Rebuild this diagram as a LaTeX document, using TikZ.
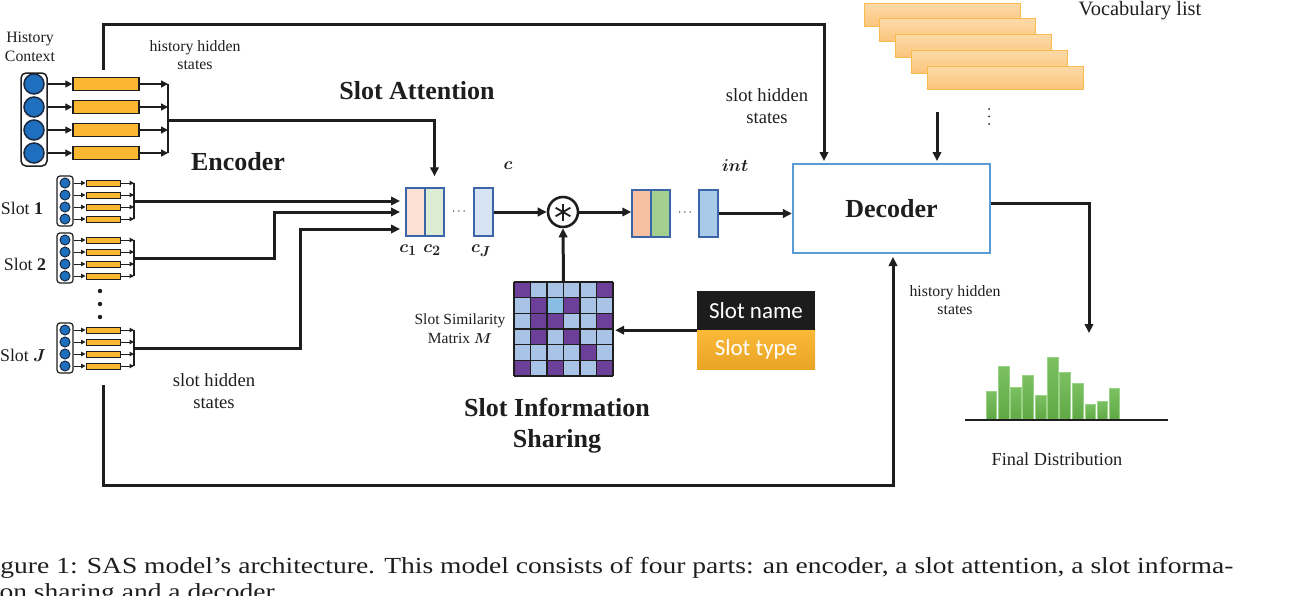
\documentclass[tikz,border=0pt]{standalone}
\usepackage{fontspec}
\setmainfont{Liberation Serif}
\newfontfamily\calfont{Carlito}
\usepackage{bm}
\usetikzlibrary{arrows.meta,calc}
\definecolor{circblue}{HTML}{1F6FBF}
\definecolor{circedge}{HTML}{1A2A40}
\definecolor{yel}{HTML}{FBB632}
\definecolor{cone}{HTML}{FBE0D3}
\definecolor{ctwo}{HTML}{DCECD4}
\definecolor{cthree}{HTML}{D5E3F3}
\definecolor{cedge}{HTML}{3C64A8}
\definecolor{ione}{HTML}{F7C0A1}
\definecolor{itwo}{HTML}{A3D08F}
\definecolor{ithree}{HTML}{A9CBEA}
\definecolor{mpurple}{HTML}{6C3F99}
\definecolor{mlight}{HTML}{A9C3E6}
\definecolor{mmid}{HTML}{8ABDE3}
\definecolor{decblue}{HTML}{5B9BD5}
\definecolor{voctop}{HTML}{FDDAA8}
\definecolor{vocbot}{HTML}{FBC57C}
\definecolor{vocedge}{HTML}{F8BB4F}
\definecolor{bartop}{HTML}{7CC062}
\definecolor{barbot}{HTML}{5FA845}
\definecolor{baredge}{HTML}{9AD286}
\definecolor{nameblk}{HTML}{1C1C1C}
\definecolor{typetop}{HTML}{FBB93A}
\definecolor{typebot}{HTML}{E9A424}
\definecolor{ink}{HTML}{1E1E1E}
\newcommand\slotblk[2]{%
  \node[sbox] (#1box) at (65,#2+18) {};
  \foreach \k in {0,1,2,3} {
    \node[scirc] (#1c\k) at (65,#2+12*\k) {};
    \node[srect] (#1r\k) at (103,#2+12*\k) {};
    \coordinate (#1b\k) at (134,#2+12*\k);
    \draw[tarr] (#1box.east |- #1r\k) -- (#1r\k.west);
    \draw[tarr] (#1r\k.east) -- (#1b\k);
  }
  \draw[line width=1.2pt,ink] (#1b0) -- (#1b3);
  \coordinate (#1out) at (134,#2+18);
}
\begin{document}
\begin{tikzpicture}[x=1pt,y=-1pt,
  conn/.style={line width=3pt,draw=ink,-{Triangle[length=9pt,width=8.5pt]}},
  sarr/.style={line width=1.4pt,draw=ink,-{Triangle[length=7pt,width=7pt]}},
  tarr/.style={line width=1pt,draw=ink,-{Triangle[length=4.5pt,width=4.5pt]}},
  txt/.style={font=\fontsize{15.8}{18}\selectfont,align=center,inner sep=0,text=ink},
  bigtxt/.style={font=\fontsize{18.6}{22}\selectfont,align=center,inner sep=0,text=ink},
  head/.style={font=\bfseries\fontsize{26}{31}\selectfont,align=center,inner sep=0,text=ink},
  mlbl/.style={font=\fontsize{19}{20}\selectfont,inner sep=0,text=ink},
  hcirc/.style={circle,fill=circblue,draw=circedge,line width=1.5pt,minimum size=20pt,inner sep=0},
  hrect/.style={rectangle,fill=yel,draw=ink,line width=1.5pt,minimum width=66pt,minimum height=13pt,inner sep=0},
  sbox/.style={rectangle,draw=ink,fill=white,line width=1.2pt,rounded corners=3pt,minimum width=16pt,minimum height=50pt,inner sep=0},
  scirc/.style={circle,fill=circblue,draw=circedge,line width=1pt,minimum size=10pt,inner sep=0},
  srect/.style={rectangle,fill=yel,draw=ink,line width=1pt,minimum width=34pt,minimum height=6pt,inner sep=0},
  vbar/.style={rectangle,draw=cedge,line width=1.5pt,minimum width=19pt,minimum height=48pt,inner sep=0},
  vocr/.style={rectangle,draw=vocedge,line width=1pt,top color=voctop,bottom color=vocbot,minimum width=156pt,minimum height=23pt,inner sep=0},
  bar/.style={draw=baredge,line width=0.8pt,top color=bartop,bottom color=barbot},
  dotn/.style={circle,fill=ink,minimum size=2pt,inner sep=0}]
\useasboundingbox (0,0) rectangle (1313,595);
\clip (0,0) rectangle (1313,595);

% ---------- history encoder ----------
\node[txt] (histlab) at (30,46.5) {History\\[1pt]Context};
\node[rectangle,draw=ink,fill=white,line width=1.5pt,rounded corners=5pt,minimum width=26pt,minimum height=93pt,inner sep=0] (hbox) at (34,119.5) {};
\foreach \i/\y in {1/84,2/107,3/130,4/153} {
  \node[hcirc] (hc\i) at (34,\y) {};
  \node[hrect] (hr\i) at (106,\y) {};
  \coordinate (hb\i) at (168,\y);
  \draw[sarr] (hbox.east |- hr\i) -- (hr\i.west);
  \draw[sarr] (hr\i.east) -- (hb\i);
}
\draw[line width=1.4pt,ink] (hb1) -- (hb4);
\coordinate (hout) at (168,120);
\node[txt] (hhs1) at (195,55) {history hidden\\states};
\node[head] (attlab) at (417,91) {Slot Attention};
\node[head] (enclab) at (238,162) {Encoder};

% ---------- slot encoders ----------
\slotblk{sa}{183}
\slotblk{sb}{240}
\slotblk{sj}{330}
\node[font=\fontsize{17.8}{20}\selectfont,inner sep=0,text=ink] (sl1) at (22,208) {Slot \textbf{1}};
\node[font=\fontsize{17.8}{20}\selectfont,inner sep=0,text=ink] (sl2) at (25,264) {Slot \textbf{2}};
\node[font=\fontsize{17.8}{20}\selectfont,inner sep=0,text=ink] (slj) at (23,355) {Slot $\bm{J}$};
\foreach \y in {291,304,317} \fill[ink] (100,\y) circle (2.2pt);
\node[bigtxt] (shs1) at (214,391) {slot hidden\\states};

% ---------- slot attention vectors ----------
\node[vbar,fill=cone] (c1) at (415.5,212) {};
\node[vbar,fill=ctwo] (c2) at (434.5,212) {};
\node[inner sep=0,font=\fontsize{13}{13}\selectfont] (cdots) at (459,212) {$\cdots$};
\node[vbar,fill=cthree] (cJ) at (483.5,212) {};
\node[mlbl] (c1l) at (408,250) {$\bm{c}_{\bm 1}$};
\node[mlbl] (c2l) at (432,250) {$\bm{c}_{\bm 2}$};
\node[mlbl] (cJl) at (481,251) {$\bm{c}_{\bm J}$};
\node[mlbl] (clab) at (508,166) {$\bm{c}$};
\coordinate (att1) at (400,201);
\coordinate (att2) at (400,212);
\coordinate (att3) at (400,229);
\draw[conn] (saout) -- (att1);
\draw[conn] (sbout) -| (274,212) -- (att2);
\draw[conn] (sjout) -| (300,229) -- (att3);
\draw[conn] (hout) -| ([yshift=11pt]c2.north);

% ---------- star operator ----------
\node[circle,draw=ink,line width=2.6pt,minimum size=30pt,inner sep=0] (star) at (563,212) {};
\foreach \a in {90,30,150} \draw[line width=1.8pt,ink] ($(star)+(\a:8.5)$) -- ($(star)+(\a+180:8.5)$);
\draw[conn] (cJ.east) -- (star.west);

% ---------- int vectors ----------
\node[vbar,fill=ione,minimum height=47pt] (i1) at (641.5,213.5) {};
\node[vbar,fill=itwo,minimum height=47pt] (i2) at (660.5,213.5) {};
\node[inner sep=0,font=\fontsize{13}{13}\selectfont] (idots) at (685,213) {$\cdots$};
\node[vbar,fill=ithree,minimum height=47pt] (i3) at (708.5,213.5) {};
\node[mlbl] (intlab) at (735,166) {$\bm{int}$};
\draw[conn] (star.east) -- (star.east -| i1.west);

% ---------- similarity matrix ----------
\node[rectangle,minimum width=99pt,minimum height=94pt,inner sep=0,fill=mlight] (mat) at (563.5,329) {};
\foreach \r/\c in {0/0,0/5,1/1,1/3,2/1,2/2,2/5,3/1,3/3,4/4,5/0,5/2,5/5}
  \fill[mpurple] (514+\c*16.5,282+\r*15.667) rectangle ++(16.5,15.667);
\fill[mmid] (514+2*16.5,282+15.667) rectangle ++(16.5,15.667);
\foreach \i in {0,...,6} {
  \draw[line width=1.5pt,ink] (514+\i*16.5,282) -- (514+\i*16.5,376);
  \draw[line width=1.5pt,ink] (514,282+\i*15.667) -- (613,282+\i*15.667);
}
\node[txt,font=\fontsize{15.5}{19}\selectfont] (mlab) at (460,328.5) {Slot Similarity\\Matrix $\bm{M}$};
\draw[conn] (mat.north) -- (star.south);
\node[head] (silab) at (557,425.5) {Slot Information\\Sharing};

% ---------- slot name / type ----------
\node[rectangle,fill=nameblk,minimum width=118pt,minimum height=39pt,inner sep=0,text=white,font=\calfont\fontsize{23}{24}\selectfont] (sname) at (756,310.5) {Slot name};
\node[rectangle,top color=typetop,bottom color=typebot,minimum width=118pt,minimum height=39pt,inner sep=0,text=white,font=\calfont\fontsize{23}{24}\selectfont] (stype) at (756,349.5) {Slot type};
\draw[conn] (sname.south west) -- ([xshift=2pt]mat.east |- sname.south west);

% ---------- decoder ----------
\node[rectangle,draw=decblue,line width=2.2pt,fill=white,minimum width=197pt,minimum height=89pt,inner sep=0,font=\bfseries\fontsize{26}{31}\selectfont,text=ink] (dec) at (891.5,208.5) {Decoder};
\draw[conn] (i3.east) -- (i3.east -| dec.west);
\node[bigtxt] (shs2) at (767,106.5) {slot hidden\\states};
\coordinate (htop) at (103,70);
\coordinate (decin1) at (824,161);
\draw[conn] (htop) -- (103,24) -| (decin1);

% ---------- vocabulary ----------
\foreach \i in {0,...,4}
  \node[vocr] (v\i) at (942+15.75*\i,14.5+15.75*\i) {};
\node[font=\fontsize{20.4}{22}\selectfont,inner sep=0,text=ink] (voclab) at (1140,11) {Vocabulary list};
\coordinate (vocout) at (937,112);
\draw[conn] (vocout) -- (vocout |- decin1);
\foreach \j/\y in {1/109,2/116.5,3/124} \node[dotn] (vd\j) at (989,\y) {};

% ---------- bottom connector ----------
\coordinate (sbot) at (103,385);
\coordinate (decin2) at (893,257);
\draw[conn] (sbot) -- (103,485) -| (decin2);
\node[txt] (hhs2) at (955,300) {history hidden\\states};

% ---------- distribution ----------
\coordinate (distin) at (1089,333);
\draw[conn] ([yshift=5.5pt]dec.east) -| (distin);
\foreach \l/\r/\t in {986/996/391,998/1009/366,1010/1021/387,1022/1033/375,1035/1046/395,1047/1058/357,1059/1070/372,1072/1083/383,1085/1095/404,1097/1107/401,1109/1119/388}
  \path[bar] (\l,420) rectangle (\r,\t);
\node[inner sep=0,minimum width=203pt,minimum height=0pt] (base) at (1066.5,420) {};
\draw[line width=2.5pt,ink] (base.west) -- (base.east);
\node[font=\fontsize{18.3}{20}\selectfont,inner sep=0,text=ink] (fdlab) at (1057,459) {Final Distribution};

% ---------- caption ----------
\node[anchor=base west,inner sep=0,font=\fontsize{23}{26}\selectfont,text=ink] (cap1) at (-22.7,573) {\scalebox{1.197}[1]{Figure 1: SAS model’s architecture. This model consists of four parts: an encoder, a slot attention, a slot informa-}};
\node[anchor=base west,inner sep=0,font=\fontsize{23}{26}\selectfont,text=ink] (cap2) at (-16,599) {\scalebox{1.197}[1]{tion sharing and a decoder.}};
\end{tikzpicture}
\end{document}
